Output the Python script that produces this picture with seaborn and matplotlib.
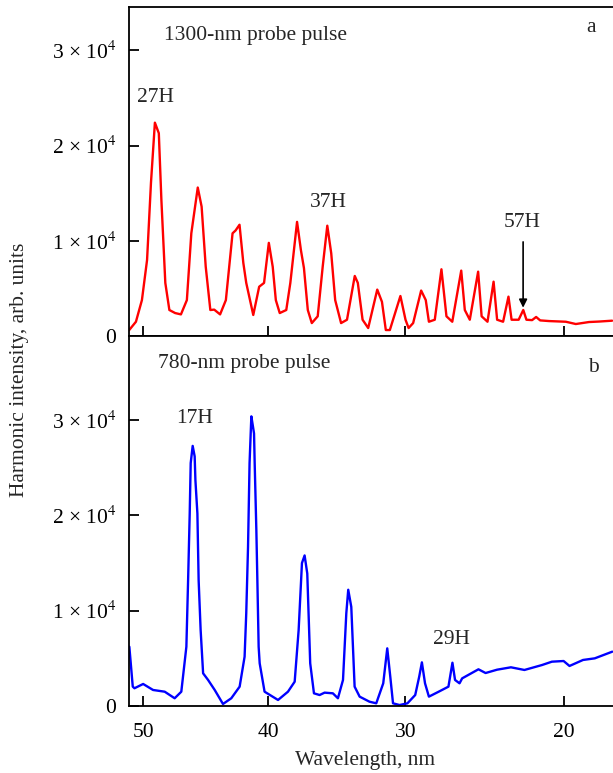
import numpy as np
import pandas as pd
import matplotlib
matplotlib.use("Agg")
import matplotlib.pyplot as plt
import seaborn as sns
from matplotlib.ticker import FixedLocator, FuncFormatter, NullLocator

# ---------------- data ----------------
wl_1300 = [51.18, 50.61, 50.12, 49.70, 49.38, 49.06, 48.74, 48.53, 48.21, 47.88,
           47.41, 46.94, 46.46, 46.10, 45.58, 45.27, 44.94, 44.57, 44.26, 43.79,
           43.33, 42.80, 42.56, 42.25, 41.95, 41.72, 41.17, 40.71, 40.33, 39.96,
           39.66, 39.42, 39.12, 38.62, 38.31, 37.80, 37.51, 37.28, 36.99, 36.69,
           36.25, 35.88, 35.54, 35.25, 34.96, 34.53, 34.10, 33.54, 33.32, 32.98,
           32.58, 31.94, 31.61, 31.34, 31.06, 30.33, 29.98, 29.77, 29.46, 28.92,
           28.61, 28.40, 28.01, 27.57, 27.24, 26.86, 26.28, 26.05, 25.73, 25.20,
           24.98, 24.61, 24.23, 24.01, 23.64, 23.31, 23.12, 22.69, 22.41, 22.22,
           21.88, 21.64, 21.40, 20.87, 19.90, 19.33, 18.58, 18.02, 17.30]
int_1300 = [630, 1530, 3800, 8000, 16100, 22400, 21300, 14300, 5600, 2760,
            2440, 2300, 3800, 10800, 15600, 13600, 7300, 2760, 2800, 2300,
            3800, 10800, 11100, 11700, 7700, 5600, 2240, 5200, 5600, 9800,
            7300, 3800, 2440, 2760, 5600, 12000, 9050, 7160, 2760, 1390,
            2100, 7300, 11600, 8700, 3800, 1390, 1740, 6330, 5600, 1740,
            870, 4900, 3620, 660, 660, 4230, 1740, 870, 1390, 4800,
            3800, 1530, 1740, 7030, 2100, 1530, 6890, 2760, 1740, 6780,
            2100, 1530, 5730, 1740, 1530, 4160, 1740, 1740, 2760, 1740,
            1700, 2030, 1670, 1600, 1530, 1290, 1500, 1550, 1640]

wl_780 = [51.15, 50.87, 50.73, 50.02, 49.21, 48.26, 47.45, 46.91, 46.50, 46.36,
          46.23, 46.15, 45.99, 45.83, 45.77, 45.61, 45.51, 45.35, 45.15, 44.75,
          44.22, 43.56, 42.90, 42.24, 41.85, 41.72, 41.58, 41.46, 41.32, 41.19,
          41.11, 41.06, 40.93, 40.85, 40.75, 40.67, 40.29, 39.25, 38.49, 37.98,
          37.68, 37.43, 37.23, 37.03, 36.81, 36.53, 36.11, 35.74, 35.13, 34.76,
          34.39, 34.15, 34.01, 33.79, 33.55, 33.19, 32.49, 32.01, 31.52, 31.24,
          31.03, 30.84, 30.39, 29.85, 29.32, 29.05, 28.87, 28.66, 28.40, 27.75,
          27.11, 26.85, 26.68, 26.39, 26.22, 25.18, 24.73, 24.01, 23.16, 22.34,
          21.29, 20.71, 20.03, 19.69, 18.92, 18.26, 17.29]
int_780 = [6220, 2030, 1860, 2310, 1680, 1500, 810, 1500, 6220, 13200,
           20200, 25500, 27300, 26200, 23700, 20200, 13200, 8000, 3430, 2730,
           1680, 210, 810, 2030, 5170, 9730, 16700, 25500, 30400, 29300,
           28600, 25500, 18500, 13200, 6220, 4480, 1500, 630, 1500, 2550,
           7970, 15000, 15800, 13900, 4480, 1330, 1150, 1400, 1330, 810,
           2730, 9730, 12200, 10400, 2030, 980, 450, 280, 2380, 6050,
           3080, 280, 100, 280, 1150, 3080, 4580, 2380, 980, 1500,
           2030, 4540, 2730, 2380, 2900, 3850, 3460, 3810, 4060, 3780,
           4300, 4650, 4720, 4200, 4830, 5000, 5700]

x_ticks = [50, 40, 30, 20]
y_ticks = [0, 10000, 20000, 30000]

df_a = pd.DataFrame({"wavelength": wl_1300, "intensity": int_1300})
df_b = pd.DataFrame({"wavelength": wl_780, "intensity": int_780})

# ---------------- non-linear spectrometer wavelength scale ----------------
def _det(w):
    w = np.asarray(w, dtype=float)
    return -(143 - 12.5 * (w - 50) + 0.06 * (w - 50) * (w - 40)
             - 0.0016667 * (w - 50) * (w - 40) * (w - 30))

_grid = np.linspace(-20, 140, 20001)
_gdet = _det(_grid)

def _inv(d):
    return np.interp(np.asarray(d, dtype=float), _gdet, _grid)

# ---------------- style ----------------
sns.set_theme(style="ticks")
plt.rcParams["font.family"] = ["Liberation Serif", "DejaVu Serif"]
plt.rcParams["mathtext.fontset"] = "stix"
FS = 15.5

fig = plt.figure(figsize=(6.13, 7.73), dpi=100)
left, width = 0.2104, 0.7896
ax_a = fig.add_axes([left, 0.5649, width, 0.4257])
ax_b = fig.add_axes([left, 0.0867, width, 0.4782])

sns.lineplot(data=df_a, x="wavelength", y="intensity", ax=ax_a, color="#ff0000",
             linewidth=1.7, estimator=None, sort=False)
sns.lineplot(data=df_b, x="wavelength", y="intensity", ax=ax_b, color="#0000ff",
             linewidth=1.7, estimator=None, sort=False)

def yfmt(v, pos):
    if abs(v) < 1:
        return "0"
    return f"{int(round(v / 1e4))} × 10$^{{4}}$"

for ax, ymax in ((ax_a, 34500), (ax_b, 38800)):
    ax.set_xscale("function", functions=(_det, _inv))
    ax.set_xlim(51.18, 17.25)
    ax.set_ylim(0, ymax)
    ax.xaxis.set_major_locator(FixedLocator(x_ticks))
    ax.xaxis.set_minor_locator(NullLocator())
    ax.yaxis.set_major_locator(FixedLocator(y_ticks))
    ax.yaxis.set_minor_locator(NullLocator())
    ax.yaxis.set_major_formatter(FuncFormatter(yfmt))
    ax.tick_params(axis="both", direction="in", length=7.5, width=1.3,
                   labelsize=FS, colors="black")
    ax.tick_params(axis="y", pad=9)
    ax.tick_params(axis="x", pad=12)
    ax.spines["right"].set_visible(False)
    for s in ("left", "bottom", "top"):
        ax.spines[s].set_linewidth(1.3)
        ax.spines[s].set_color("black")
    ax.set_xlabel("")
    ax.set_ylabel("")
    ax.set_facecolor("white")

ax_a.set_xticklabels([])
ax_b.set_xticklabels([str(t) for t in x_ticks])

# panel texts
ax_a.text(0.0723, 0.913, "1300-nm probe pulse", transform=ax_a.transAxes,
          fontsize=FS, ha="left", va="center")
ax_a.text(0.9545, 0.937, "a", transform=ax_a.transAxes, fontsize=FS,
          ha="center", va="center")
ax_a.text(49.02, 25000, "27H", fontsize=FS, ha="center", va="center")
ax_a.text(35.47, 14000, "37H", fontsize=FS, ha="center", va="center")
ax_a.text(22.48, 11900, "57H", fontsize=FS, ha="center", va="center")
ax_a.annotate("", xy=(22.42, 3000), xytext=(22.42, 9900),
              arrowprops=dict(arrowstyle="-|>", color="black", lw=1.2,
                              mutation_scale=12, shrinkA=0, shrinkB=0))

ax_b.text(0.0599, 0.927, "780-nm probe pulse", transform=ax_b.transAxes,
          fontsize=FS, ha="left", va="center")
ax_b.text(0.9587, 0.916, "b", transform=ax_b.transAxes, fontsize=FS,
          ha="center", va="center")
ax_b.text(45.85, 30200, "17H", fontsize=FS, ha="center", va="center")
ax_b.text(26.93, 7030, "29H", fontsize=FS, ha="center", va="center")

fig.text(0.5954, 0.0103, "Wavelength, nm", fontsize=FS, ha="center", va="baseline")
fig.text(0.0326, 0.521, "Harmonic intensity, arb. units", fontsize=FS,
         rotation=90, ha="center", va="center")

fig.savefig("out.png", dpi=100, facecolor="white")
